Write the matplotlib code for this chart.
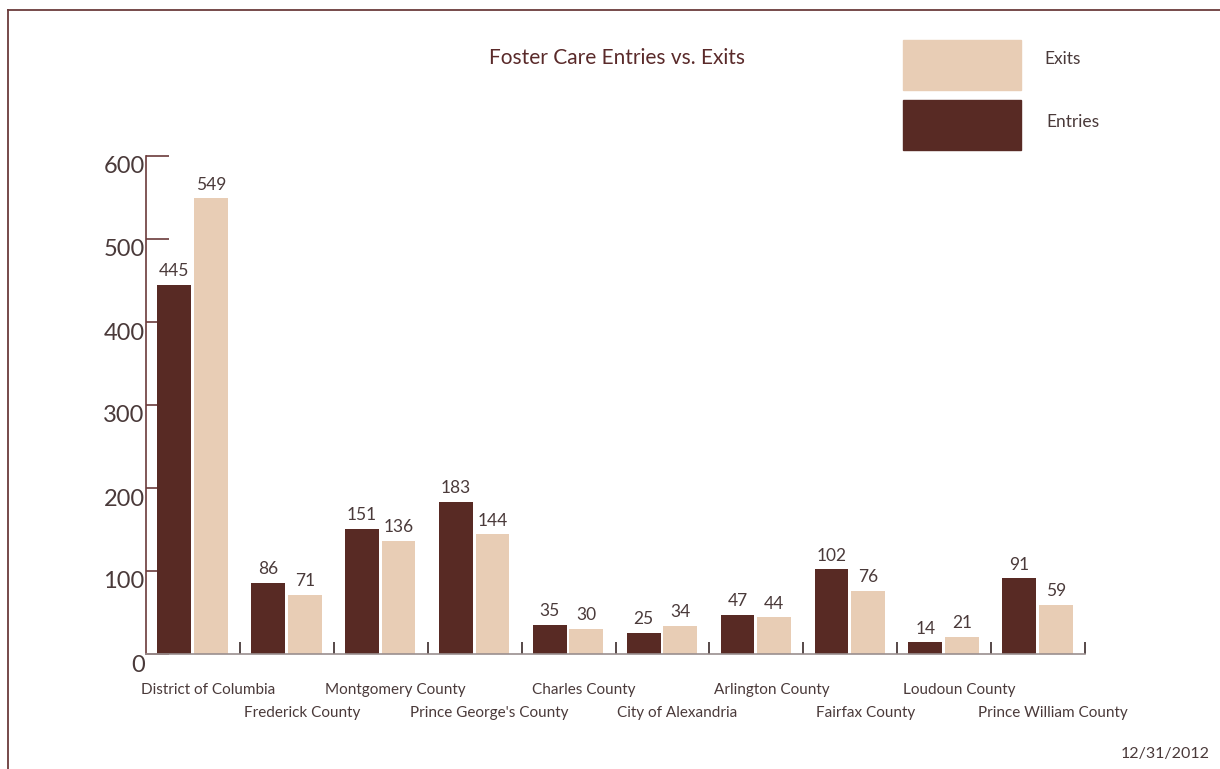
import matplotlib.pyplot as plt
from matplotlib.patches import Rectangle
from matplotlib.lines import Line2D
from matplotlib.transforms import ScaledTranslation, blended_transform_factory

# data
counties = ["District of Columbia", "Frederick County", "Montgomery County",
            "Prince George's County", "Charles County", "City of Alexandria",
            "Arlington County", "Fairfax County", "Loudoun County",
            "Prince William County"]
entries = [445, 86, 151, 183, 35, 25, 47, 102, 14, 91]
exits = [549, 71, 136, 144, 30, 34, 44, 76, 21, 59]
yticks = [0, 100, 200, 300, 400, 500, 600]

dark = "#582a24"
light = "#e8cdb5"
line_col = "#6b3b3b"
text_col = "#4a3a3a"

plt.rcParams["font.family"] = ["Lato", "DejaVu Sans"]

fig = plt.figure(figsize=(12.2, 7.69), dpi=100)
ax = fig.add_axes([146 / 1220, 1 - 654 / 769, 939 / 1220, 498 / 769])

x = list(range(len(counties)))
w = 0.36
xe = [i - 0.2 for i in x]
xx = [i + 0.19 for i in x]
ax.bar(xe, entries, width=w, color=dark, zorder=2)
ax.bar(xx, exits, width=w, color=light, zorder=2)

for xi, v in zip(xe, entries):
    ax.text(xi, v + 7, str(v), ha="center", va="bottom", fontsize=12.5, color=text_col)
for xi, v in zip(xx, exits):
    ax.text(xi, v + 7, str(v), ha="center", va="bottom", fontsize=12.5, color=text_col)

ax.set_xlim(-0.5, len(counties) - 0.5)
ax.set_ylim(0, 600)
ax.set_axisbelow(True)

for s in ["top", "right"]:
    ax.spines[s].set_visible(False)
ax.spines["left"].set_color(line_col)
ax.spines["left"].set_linewidth(1.2)
ax.spines["bottom"].set_color("#9a8f8f")
ax.spines["bottom"].set_linewidth(1.2)

ax.set_yticks(yticks)
ax.set_yticklabels([str(t) for t in yticks])
ax.tick_params(axis="y", direction="in", length=16.5, width=1.2, color=line_col,
               labelsize=17, labelcolor=text_col, pad=1)
off = ScaledTranslation(0, -9 / 100, fig.dpi_scale_trans)
for lab in ax.get_yticklabels():
    lab.set_transform(lab.get_transform() + off)

# group boundary ticks on the x axis
ax.set_xticks([i + 0.5 for i in x])
ax.set_xticklabels([])
ax.tick_params(axis="x", direction="in", length=8.6, width=1.2, color="#3a2a2a")

# staggered county labels
tr = blended_transform_factory(ax.transData, ax.transAxes)
for i, name in enumerate(counties):
    yy = -0.072 if i % 2 == 0 else -0.119
    ax.text(i + 0.16, yy, name, transform=tr, ha="center", va="center",
            fontsize=11, color=text_col)

# title
fig.text(617 / 1220, 1 - 58 / 769, "Foster Care Entries vs. Exits", ha="center",
         va="center", fontsize=15, color="#5a2a2a")

# legend
fig.patches.append(Rectangle((903 / 1220, 1 - 90 / 769), 118 / 1220, 50 / 769,
                             transform=fig.transFigure, color=light))
fig.patches.append(Rectangle((903 / 1220, 1 - 150 / 769), 118 / 1220, 50 / 769,
                             transform=fig.transFigure, color=dark))
fig.text(1044 / 1220, 1 - 59 / 769, "Exits", ha="left", va="center", fontsize=12.5, color=text_col)
fig.text(1046 / 1220, 1 - 122 / 769, "Entries", ha="left", va="center", fontsize=12.5, color=text_col)

# frame lines on left and top
fig.lines.append(Line2D([8 / 1220, 8 / 1220], [0, 1 - 10 / 769], transform=fig.transFigure,
                        color=line_col, linewidth=1.3))
fig.lines.append(Line2D([8 / 1220, 1], [1 - 10 / 769, 1 - 10 / 769], transform=fig.transFigure,
                        color=line_col, linewidth=1.3))

fig.text(1210 / 1220, 1 - 754 / 769, "12/31/2012", ha="right", va="center",
         fontsize=11.5, color=text_col)

fig.savefig("out.png", dpi=100)
